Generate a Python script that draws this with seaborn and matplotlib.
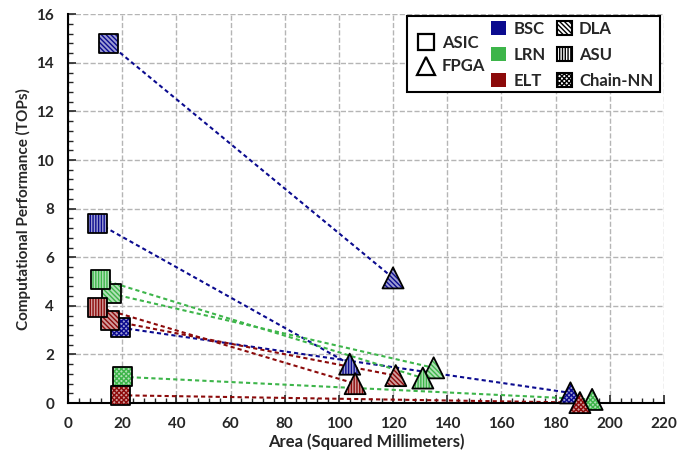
import numpy as np
import pandas as pd
import matplotlib
matplotlib.use('Agg')
import matplotlib.pyplot as plt
import seaborn as sns
from matplotlib.lines import Line2D
from matplotlib.patches import Patch, Rectangle
from matplotlib.ticker import AutoMinorLocator
from matplotlib.colors import to_rgb

# data
datasets = ['BSC', 'LRN', 'ELT']
archs = ['DLA', 'ASU', 'Chain-NN']

# rows = datasets, columns = architectures
asic_area = [[15.0, 11.0, 19.5], [16.0, 12.0, 20.0], [15.5, 11.0, 19.5]]
asic_perf = [[14.8, 7.4, 3.1], [4.5, 5.1, 1.08], [3.4, 3.95, 0.32]]
fpga_area = [[120.0, 104.0, 185.5], [135.0, 131.0, 193.5], [121.0, 106.0, 189.0]]
fpga_perf = [[5.15, 1.6, 0.42], [1.45, 1.03, 0.15], [1.13, 0.8, 0.02]]

x_ticks = [0, 20, 40, 60, 80, 100, 120, 140, 160, 180, 200, 220]
y_ticks = [0, 2, 4, 6, 8, 10, 12, 14, 16]

colors = {'BSC': '#0b0b8f', 'LRN': '#3db54a', 'ELT': '#8c0a0a'}
hatches = {'DLA': '\\' * 7, 'ASU': '|' * 6, 'Chain-NN': 'x' * 7}

rows = []
for i, d in enumerate(datasets):
    for j, a in enumerate(archs):
        rows.append({'dataset': d, 'arch': a, 'platform': 'ASIC',
                     'area': asic_area[i][j], 'perf': asic_perf[i][j]})
        rows.append({'dataset': d, 'arch': a, 'platform': 'FPGA',
                     'area': fpga_area[i][j], 'perf': fpga_perf[i][j]})
df = pd.DataFrame(rows)

sns.set_style('white')
plt.rcParams['font.family'] = ['Lato', 'DejaVu Sans']
plt.rcParams['font.weight'] = 'bold'
plt.rcParams['hatch.linewidth'] = 1.0

fig, ax = plt.subplots(figsize=(6.83, 4.57), dpi=100)
fig.subplots_adjust(left=0.0996, right=0.972, bottom=0.118, top=0.969)


def light(c, f=0.6):
    r = np.array(to_rgb(c))
    return tuple(r + (1 - r) * f)


# dashed connectors
for (d, a), g in df.groupby(['dataset', 'arch'], sort=False):
    sns.lineplot(data=g, x='area', y='perf', color=colors[d], ax=ax,
                 linestyle=(0, (2, 1.5)), linewidth=1.5, zorder=2, sort=False)

# markers: hatched layer then black outline
for _, r in df.iterrows():
    m = 's' if r['platform'] == 'ASIC' else '^'
    s = 185 if m == 's' else 230
    c = colors[r['dataset']]
    ax.scatter(r['area'], r['perf'], marker=m, s=s, facecolor=light(c),
               edgecolor=c, hatch=hatches[r['arch']], linewidth=0, zorder=3,
               clip_on=False)
    ax.scatter(r['area'], r['perf'], marker=m, s=s, facecolor='none',
               edgecolor='black', linewidth=1.3, zorder=3, clip_on=False)

ax.set_xlim(0, 220)
ax.set_ylim(0, 16)
ax.set_xticks(x_ticks)
ax.set_xticklabels([str(t) for t in x_ticks], fontweight='bold', fontsize=11)
ax.set_yticks(y_ticks)
ax.set_yticklabels([str(t) for t in y_ticks], fontweight='bold', fontsize=11)
ax.xaxis.set_minor_locator(AutoMinorLocator(5))
ax.yaxis.set_minor_locator(AutoMinorLocator(5))
ax.tick_params(which='both', direction='in', bottom=True, left=True,
               top=False, right=False, pad=10)
ax.tick_params(which='major', length=6, width=1.2)
ax.tick_params(which='minor', length=3.5, width=1.0)
ax.grid(True, which='major', color='#b5b5b5', linestyle='--', linewidth=1)
ax.set_axisbelow(True)
for sp in ['top', 'right']:
    ax.spines[sp].set_visible(False)
for sp in ['left', 'bottom']:
    ax.spines[sp].set_color('black')
    ax.spines[sp].set_linewidth(1.5)

ax.set_xlabel('Area (Squared Millimeters)', fontsize=12, fontweight='bold',
              labelpad=2)
ax.set_ylabel('Computational Performance (TOPs)', fontsize=11,
              fontweight='bold', labelpad=4)

# legend frame and three columns
ax.add_patch(Rectangle((0.569, 0.80), 0.424, 0.195, transform=ax.transAxes,
                       facecolor='white', edgecolor='black', linewidth=1.5,
                       zorder=4, clip_on=False))
common = dict(frameon=False, borderpad=0, borderaxespad=0, handletextpad=0.45,
              labelspacing=0.6, prop={'weight': 'bold', 'size': 12})

h1 = [Line2D([], [], marker='s', linestyle='none', markersize=12,
             markerfacecolor='white', markeredgecolor='black', markeredgewidth=1.6),
      Line2D([], [], marker='^', linestyle='none', markersize=13,
             markerfacecolor='white', markeredgecolor='black', markeredgewidth=1.6)]
leg1 = ax.legend(h1, ['ASIC', 'FPGA'], loc='center left',
                 bbox_to_anchor=(0.587, 0.896), handlelength=1.0,
                 **{**common, 'labelspacing': 0.45})
leg1.set_zorder(5)
ax.add_artist(leg1)

h2 = [Patch(facecolor=colors[d], edgecolor='none') for d in datasets]
leg2 = ax.legend(h2, datasets, loc='center left', bbox_to_anchor=(0.710, 0.896),
                 handlelength=0.9, handleheight=0.9, **common)
leg2.set_zorder(5)
ax.add_artist(leg2)

h3 = [Patch(facecolor='white', edgecolor='black', hatch=hatches[a], linewidth=1.5)
      for a in archs]
leg3 = ax.legend(h3, archs, loc='center left', bbox_to_anchor=(0.820, 0.896),
                 handlelength=0.9, handleheight=0.9, **common)
leg3.set_zorder(5)

plt.savefig('out.png', dpi=100)
